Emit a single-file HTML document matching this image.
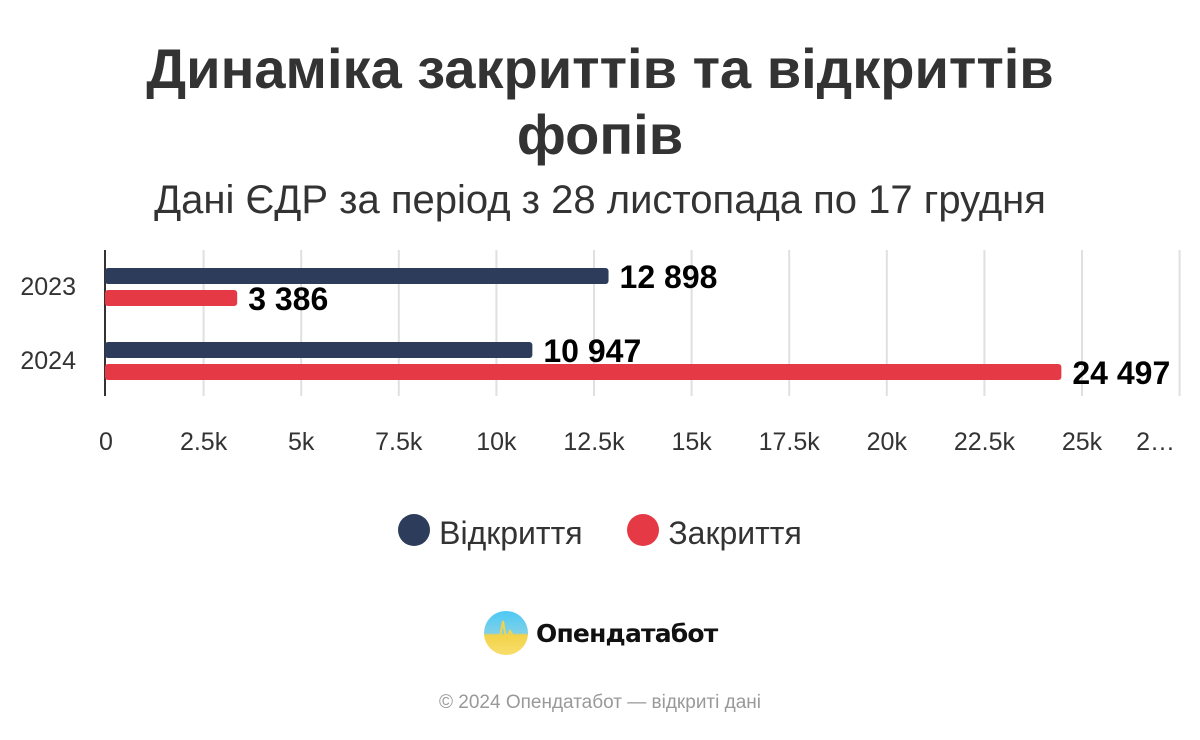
<!DOCTYPE html>
<html><head><meta charset="utf-8"><style>
body{margin:0;width:1200px;height:740px;background:#fff;font-family:"Liberation Sans",sans-serif;position:relative;overflow:hidden}
.t{position:absolute;left:0;width:1200px;text-align:center;color:#333}
</style></head><body>
<div class="t" style="top:36px;font-size:56px;font-weight:bold;line-height:66px">Динаміка закриттів та відкриттів<br>фопів</div>
<div class="t" style="top:176px;font-size:40px;line-height:48px">Дані ЄДР за період з 28 листопада по 17 грудня</div>
<svg id="c" width="1200" height="480" style="position:absolute;left:0;top:230px"></svg>
<div style="position:absolute;top:514px;left:0;width:1200px;text-align:center;font-size:32px;color:#333">
<span><span style="display:inline-block;width:32px;height:32px;border-radius:50%;background:#2e3c5c;vertical-align:-2px"></span> Відкриття</span>
<span style="margin-left:36px"><span style="display:inline-block;width:32px;height:32px;border-radius:50%;background:#e63946;vertical-align:-2px"></span> Закриття</span>
</div>
<div style="position:absolute;left:484px;top:611px;height:44px;display:flex;align-items:center">
<svg width="44" height="44"><defs><linearGradient id="g" x1="0" y1="0" x2="0" y2="1"><stop offset="0" stop-color="#4cc9f5"/><stop offset="0.5" stop-color="#7fd0e8"/><stop offset="0.55" stop-color="#f3d34a"/><stop offset="1" stop-color="#f7dd6b"/></linearGradient></defs><circle cx="22" cy="22" r="22" fill="url(#g)"/><path d="M8 28 L16 26 L19 10 L22 28 L26 20 L30 26 L40 24" stroke="#f3d34a" stroke-width="2" fill="none"/></svg>
<span style="font-family:'DejaVu Sans',sans-serif;font-size:25px;font-weight:bold;color:#111;margin-left:8px;letter-spacing:-0.8px">Опендатабот</span></div>
<div class="t" style="top:692px;font-size:19px;color:#999">© 2024 Опендатабот — відкриті дані</div>
<script>
const years=["2023","2024"];
const openings=[12898,10947];
const closings=[3386,24497];
const ticks=[0,2500,5000,7500,10000,12500,15000,17500,20000,22500,25000,27500];
const tickLabels=["0","2.5k","5k","7.5k","10k","12.5k","15k","17.5k","20k","22.5k","25k","2…"];
const svg=document.getElementById('c');const NS='http://www.w3.org/2000/svg';
const x=v=>105+v*976/25000;
function mk(t,a){const e=document.createElementNS(NS,t);for(const k in a)e.setAttribute(k,a[k]);svg.appendChild(e);return e;}
ticks.forEach((t,i)=>{
 if(i>0){const l=mk('line',{x1:x(t)+1,x2:x(t)+1,y1:20,y2:166,stroke:'#e0e0e0','stroke-width':2});
 
 }
 const last=i===ticks.length-1;
 const tx=mk('text',{x:last?1175:x(t)+1,y:220,'text-anchor':last?'end':'middle','font-size':25,fill:'#333'});tx.textContent=tickLabels[i];
 
 
});
const ax=mk('line',{x1:105,x2:105,y1:20,y2:166,stroke:'#333','stroke-width':2});


const fmt=v=>String(v).replace(/\B(?=(\d{3})+(?!\d))/g,' ');
years.forEach((yr,i)=>{
 const y0=38+i*74;
 const yl=mk('text',{x:76,y:y0+27,'text-anchor':'end','font-size':25,fill:'#333'});yl.textContent=yr;
 
 
 [[openings[i],'#2e3c5c',0,'opening'],[closings[i],'#e63946',22,'closing']].forEach(([v,c,dy,n])=>{
  const r=mk('rect',{x:105,y:y0+dy,width:x(v)-105,height:16,rx:3,fill:c});
  
  
  const t=mk('text',{x:x(v)+11,y:y0+dy+20,'font-size':32,'font-weight':'bold',fill:'#000'});t.textContent=fmt(v);
  
  
 });
});
</script>
</body></html>
